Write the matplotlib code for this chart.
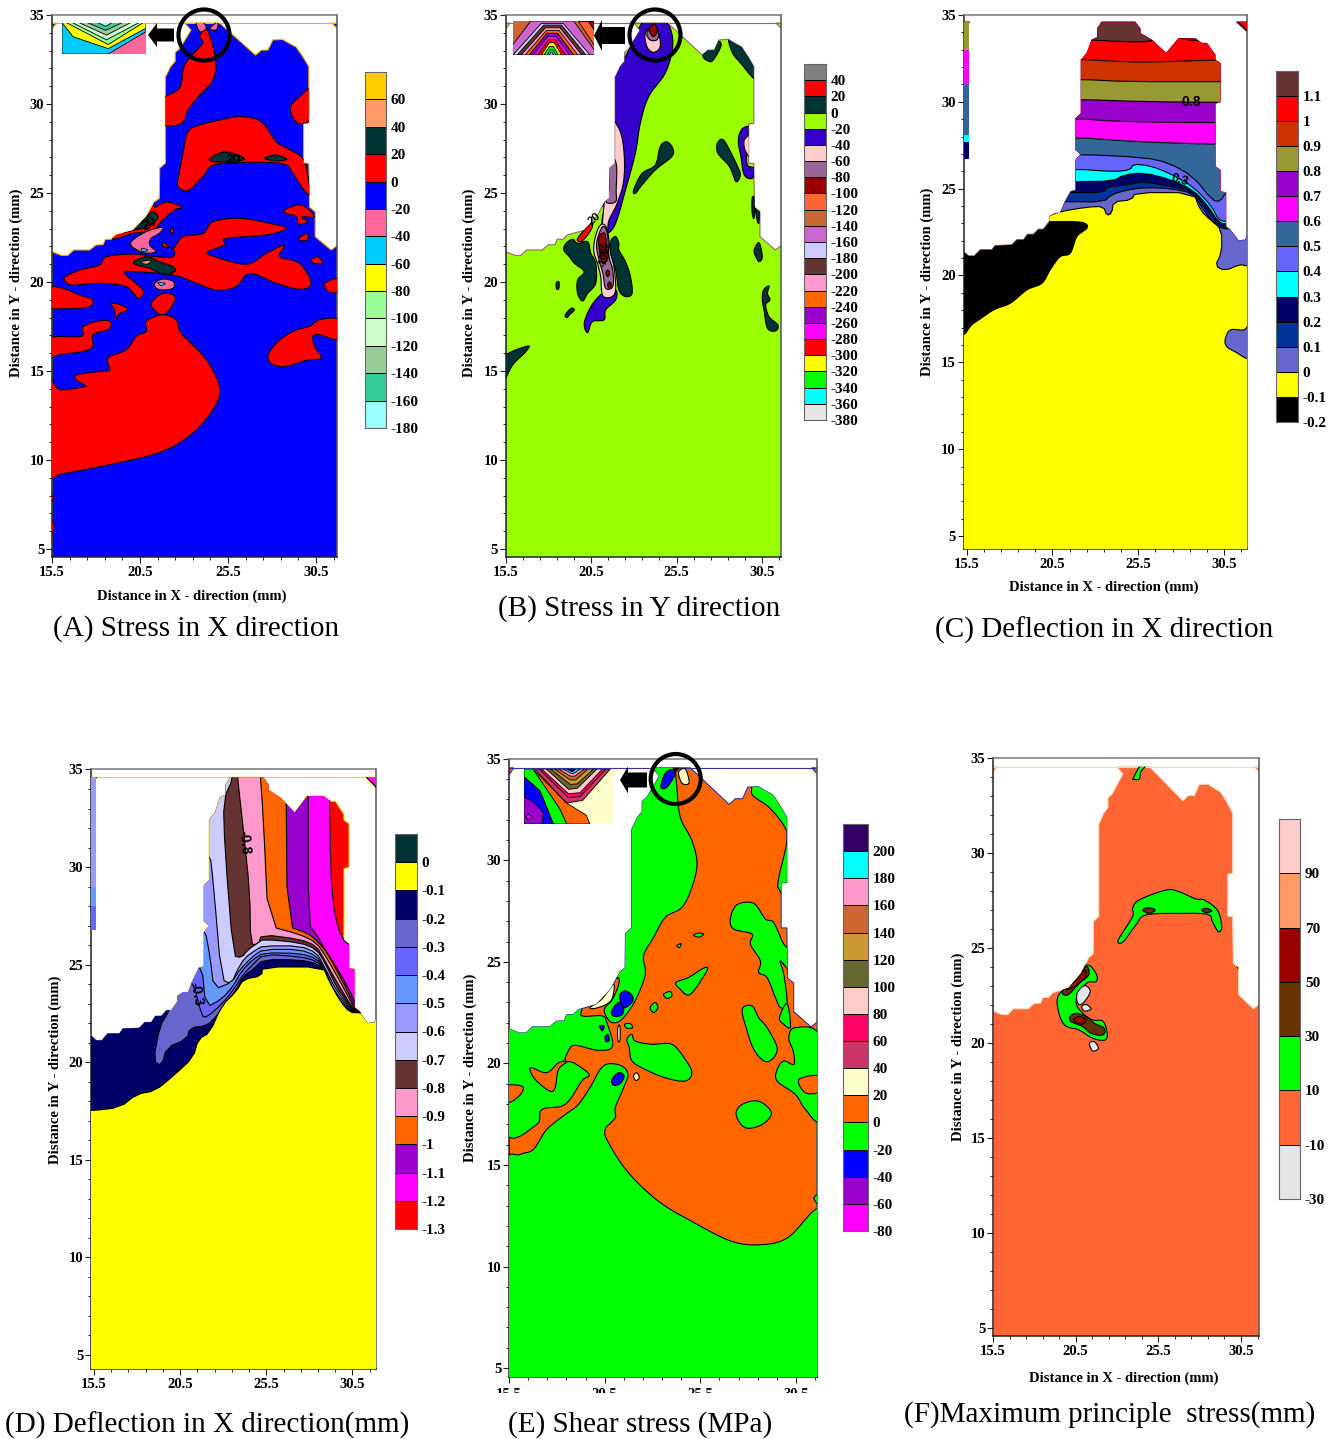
import numpy as np
import matplotlib
matplotlib.use("Agg")
import matplotlib.pyplot as plt
from matplotlib.path import Path
from matplotlib.patches import PathPatch, Circle, FancyArrow, Rectangle

plt.rcParams['font.family'] = ['Liberation Serif', 'DejaVu Serif']

W, H = 1341, 1439

# ------------- mold outlines (mm)
MOLD_1 = [(15.5,4.0),(15.5,21.7),(16.03,21.5),(16.4,21.5),(16.73,21.8),(17.64,21.8),(18.0,22.08),(18.4,22.1),
          (18.53,22.4),(18.87,22.4),(19.15,22.65),(20.1,22.9),(20.4,23.2),(20.86,23.67),(21.33,24.5),(21.6,24.7),
          (21.62,26.4),(21.94,26.67),(21.94,31.5),(22.24,32.1),(22.5,32.4),(22.5,32.9),(22.75,33.1),(23.4,34.15),
          (23.04,34.55),(25.03,34.55),(27.07,32.75),(27.4,33.03),(27.77,33.03),(28.05,33.6),(28.6,33.63),(29.0,33.4),
          (29.38,33.2),(29.76,32.66),(30.1,32.1),(30.1,28.9),(29.8,28.9),(29.8,26.67),(30.1,26.67),(30.14,24.2),
          (30.46,23.95),(30.46,22.55),(31.37,21.8),(31.75,22.08),(31.75,4.0)]
MOLD_2 = [(15.5,4.0),(15.5,21.37),(15.79,21.12),(16.11,21.12),(16.45,21.47),(17.12,21.47),(17.31,21.72),(18.26,21.76),
          (18.55,22.05),(18.93,22.05),(19.16,22.37),(19.5,22.37),(19.79,22.66),(20.07,22.66),(20.41,23.1),(20.41,23.39),
          (20.74,23.58),(21.02,23.58),(21.31,24.25),(21.63,24.83),(21.92,24.92),(21.92,26.65),(22.2,26.98),(21.92,27.23),
          (21.92,29.05),(22.22,29.34),(22.22,32.41),(22.55,32.79),(22.83,33.56),(23.16,33.71),(23.16,34.23),(23.4,34.6),
          (25.3,34.6),(25.6,34.2),(25.6,33.94),(26.26,33.56),(27.08,32.79),(27.79,33.64),(28.74,33.64),(29.12,33.37),
          (29.4,33.37),(29.88,32.7),(29.88,32.41),(30.17,32.22),(30.17,30.0),(29.88,29.91),(29.88,26.27),(30.17,26.07),
          (30.17,24.83),(30.49,24.77),(30.49,22.81),(30.74,22.62),(31.21,22.0),(31.6,22.04),(31.75,22.33),(31.75,4.0)]
CORNER_L1 = [(15.5,34.55),(15.75,34.55),(15.5,34.2)]
CORNER_R1 = [(31.4,34.55),(31.75,34.55),(31.75,34.2)]
CORNER_L2 = [(15.5,34.6),(15.85,34.6),(15.5,34.3)]
CORNER_R2 = [(31.1,34.6),(31.75,34.6),(31.75,34.0)]

# ------------- panel A regions (mm)
A_RED = [
    [(24.3,34.25),(24.8,32.5),(24.65,31.35),(23.9,30.5),(23.23,29.66),(22.85,28.9),(21.7,28.88),(21.7,30.2),(22.75,30.9),(23.04,32.2),(23.9,33.2),(24.08,33.5),(23.9,33.8)],
    [(22.66,25.73),(22.98,27.42),(23.23,28.45),(23.89,28.82),(25.03,29.1),(26.26,29.29),(27.4,29.0),(28.25,27.88),(28.9,27.5),(29.76,26.95),(30.05,25.92),(30.14,24.9),(29.67,25.36),(29.19,26.1),(28.44,26.67),(24.93,26.63),(24.08,25.92),(23.23,25.13),(22.66,25.36)],
    [(16.26,20.3),(17.07,20.67),(18.2,20.96),(18.59,21.42),(20.1,21.57),(21.43,21.42),(22.38,21.42),(22.38,21.89),(21.8,21.98),(21.9,22.21),(22.38,21.89),(22.94,22.55),(24.08,22.73),(24.65,23.39),(26.16,23.58),(27.87,23.3),(28.81,23.01),(27.68,22.64),(25.4,22.45),(25.31,22.08),(24.36,21.7),(24.65,21.46),(26.54,20.99),(27.68,21.61),(28.72,22.08),(28.44,21.42),(29.57,21.05),(30.23,19.93),(29.57,19.59),(28.25,19.93),(26.73,20.48),(25.97,19.74),(24.84,19.55),(23.7,19.93),(22.38,20.39),(20.1,20.58),(19.63,20.48),(20.67,19.55),(20.39,19.08),(19.72,19.74),(18.2,19.93),(16.69,19.83),(16.26,20.02)],
    [(15.4,19.65),(16.1,19.65),(17.07,19.27),(17.8,19.0),(17.6,18.6),(16.3,18.5),(15.4,18.6)],
    [(18.87,18.8),(19.45,18.7),(19.82,18.43),(19.35,18.24),(19.15,17.96),(19.06,18.43)],
    [(21.14,18.8),(21.8,19.36),(22.5,19.17),(22.18,18.43),(21.75,18.15),(21.43,18.33)],
    [(31.0,19.93),(31.85,20.2),(31.85,19.46),(31.2,19.46)],
    [(30.23,21.24),(30.6,21.42),(30.9,21.05),(30.4,21.05)],
    [(29.5,22.45),(30.04,22.73),(30.0,22.36),(29.67,22.32)],
    [(28.72,24.05),(29.67,24.33),(30.42,23.67),(29.67,23.67),(30.05,23.39),(29.5,23.26),(29.4,23.67),(28.8,23.86)],
    [(21.33,24.2),(22.0,24.5),(22.9,24.2),(22.47,24.05),(21.8,23.5),(21.24,22.9),(20.1,22.73),(18.97,22.4),(19.15,22.9),(20.1,23.1),(20.86,23.9),(21.33,24.7)],
    [(22.2,22.92),(22.4,23.0),(22.35,22.7)],
    [(29.04,29.76),(29.57,30.41),(30.3,30.88),(30.3,29.29),(29.48,28.91)],
    [(15.3,14.33),(15.94,13.95),(17.26,14.1),(17.4,14.18),(16.88,14.51),(16.92,14.79),(18.2,14.98),(18.78,15.08),(18.68,15.73),(19.72,16.2),(20.29,16.95),(20.86,17.23),(20.86,17.79),(21.75,18.16),(22.56,17.88),(22.84,17.13),(24.27,15.64),(25.03,14.04),(24.65,12.83),(23.51,11.52),(22.0,10.58),(20.1,10.02),(16.12,9.23),(15.3,9.27)],
    [(15.3,16.85),(17.17,16.95),(17.26,17.51),(18.4,17.85),(18.87,17.7),(18.68,17.32),(17.83,17.04),(17.83,16.39),(17.26,16.1),(15.94,15.92),(15.3,15.79)],
    [(27.77,15.82),(28.25,16.57),(29.19,17.23),(30.14,17.51),(30.71,17.88),(31.85,17.88),(31.85,16.76),(30.71,17.04),(30.33,16.95),(30.42,16.39),(30.8,15.73),(29.95,15.6),(28.81,15.26),(28.06,15.36)],
    [(15.4,8.0),(15.62,7.9),(15.4,7.6)],
    [(15.4,6.5),(15.62,6.3),(15.4,5.5)],
]
A_DARK = [
    [(24.5,26.95),(25.4,27.32),(26.45,26.9),(25.4,26.76),(24.65,26.76)],
    [(27.58,26.95),(28.25,27.13),(28.85,26.9),(28.25,26.8)],
    [(19.53,22.77),(20.1,23.0),(20.86,23.67),(21.24,23.95),(21.52,23.58),(20.86,23.1),(20.1,22.9)],
    [(20.16,21.14),(20.86,21.42),(21.6,21.14),(22.38,20.86),(22.47,20.58),(21.8,20.45),(21.05,20.77),(20.3,20.96)],
]
A_PINK = [
    [(19.95,22.17),(20.86,22.83),(21.8,23.07),(21.6,22.73),(21.14,22.45),(21.05,22.08),(21.4,21.7),(20.67,21.65)],
    [(21.33,19.93),(21.8,20.17),(22.4,20.02),(22.38,19.65),(21.8,19.55),(21.43,19.65)],
    [(23.7,34.6),(24.08,34.6),(24.27,34.25),(23.9,34.06)],
    [(24.46,34.25),(24.93,34.6),(24.84,34.16)],
]
A_CYAN = [
    [(20.57,21.9),(20.95,21.8),(20.7,21.7)],
    [(21.52,19.96),(21.94,19.93),(21.71,19.8)],
]
A_ORANGE = [[(20.57,21.14),(21.14,21.2),(20.86,21.0)]]

# ------------- panel B regions (mm)
B_PURPLE = [
    [(22.74,33.03),(23.33,34.25),(23.71,34.6),(24.88,34.6),(25.27,33.97),(25.3,33.03),(24.88,31.72),(23.91,30.41),(23.42,28.91),(23.13,27.23),(22.55,25.17),(21.97,23.3),(21.48,22.73),(21.19,22.92),(21.19,23.67),(21.38,24.23),(21.0,25.0),(21.5,31.16),(22.16,32.0)],
    [(20.12,17.68),(20.51,18.61),(21.19,19.36),(21.97,19.55),(21.97,18.99),(21.38,18.43),(21.29,17.87),(20.6,17.77),(20.32,17.15)],
    [(29.19,27.98),(29.44,28.63),(30.02,28.73),(29.77,28.35),(29.69,26.67),(30.12,26.39),(30.02,25.82),(29.54,26.01),(29.34,27.04)],
]
B_LIGHT = [
    [(21.5,29.06),(22.16,28.63),(22.45,27.42),(22.45,25.73),(22.06,24.42),(21.58,23.48),(21.48,22.92),(21.19,22.92),(21.3,24.42),(21.5,25.36)],
    [(20.7,22.17),(20.9,22.92),(21.19,23.26),(21.48,22.92),(21.67,21.61),(21.87,20.86),(21.97,19.55),(21.67,19.14),(21.19,19.27),(21.09,20.3),(20.9,21.05),(20.7,21.61)],
    [(29.54,27.98),(29.9,28.16),(29.9,27.04),(29.58,27.42)],
    [(23.71,33.97),(24.1,34.34),(24.49,33.97),(24.59,33.22),(24.2,32.9),(23.81,33.22)],
]
B_MAUVE = [
    [(21.5,27.32),(22.0,26.67),(22.0,25.17),(21.97,24.51),(21.4,24.51),(21.6,25.36)],
    [(20.85,22.17),(21.19,23.1),(21.48,22.73),(21.58,21.42),(21.8,20.67),(21.8,19.75),(21.38,19.65),(21.22,20.49),(20.99,21.24)],
    [(23.81,33.97),(24.2,34.5),(24.49,33.97),(24.39,33.6),(24.0,33.6)],
]
B_MAROON = [
    [(21.0,22.55),(21.33,22.73),(21.43,21.98),(21.52,21.33),(21.19,21.05),(21.0,21.89)],
    [(21.5,20.67),(21.62,20.5),(21.5,20.3),(21.4,20.5)],
    [(21.6,20.0),(21.72,19.85),(21.6,19.65),(21.5,19.85)],
    [(23.95,34.16),(24.2,34.5),(24.43,34.16),(24.2,33.78)],
]
B_DARK = [
    [(18.92,21.8),(19.05,22.17),(19.44,22.4),(19.73,22.17),(20.32,22.27),(20.51,21.61),(20.8,21.05),(20.8,19.93),(20.32,19.36),(20.02,18.93),(19.73,19.36),(19.73,20.11),(20.12,20.58),(19.54,21.05),(19.25,21.42)],
    [(21.67,22.27),(21.97,22.55),(22.16,22.17),(22.16,21.8),(22.55,21.14),(22.84,20.3),(22.94,19.36),(22.55,19.18),(22.16,19.55),(21.97,20.67),(21.67,21.42)],
    [(23.03,25.17),(23.52,26.1),(24.3,26.57),(24.59,27.6),(24.98,27.88),(25.33,27.51),(25.27,27.04),(24.3,26.29),(23.52,25.45),(23.13,24.98)],
    [(27.95,27.79),(28.28,28.01),(28.67,27.42),(29.15,26.48),(29.31,26.01),(29.05,25.64),(28.67,26.48),(27.99,27.23)],
    [(27.11,32.75),(27.89,33.5),(28.18,33.31),(27.79,32.57),(27.5,32.38)],
    [(28.61,33.6),(28.96,33.5),(30.2,32.47),(30.2,31.39),(29.34,32.28),(28.86,32.85)],
    [(30.0,24.7),(30.12,24.7),(30.12,23.6),(30.0,23.9)],
    [(30.2,25.1),(30.4,25.0),(30.4,23.3),(30.2,24.0)],
    [(30.12,21.8),(30.41,22.21),(30.6,21.42),(30.41,21.14),(30.22,21.42)],
    [(30.67,19.55),(31.0,19.78),(30.9,19.36),(31.05,18.99),(30.8,18.71),(31.0,18.05),(31.52,17.58),(31.38,17.25),(30.9,17.4),(30.7,18.43),(30.6,18.99)],
    [(18.47,19.93),(18.63,20.02),(18.63,19.65),(18.5,19.6)],
    [(19.0,18.15),(19.35,18.52),(19.54,18.43),(19.25,18.15),(19.1,18.0)],
    [(15.3,15.73),(16.79,16.4),(16.67,16.07),(15.91,15.34),(15.3,14.33)],
]
B_RED = [[(19.73,22.45),(20.51,23.3),(20.6,23.1),(20.32,22.64),(19.93,22.27)]]

# ------------- panel C layers (upper edge of each band, mm)
C_BANDS = [
    [(21.98,33.6),(24.64,33.46),(26.26,33.46),(27.5,33.94),(27.88,33.64),(28.74,33.52),(31.69,33.52)],
    [(22.17,32.45),(23.88,32.35),(25.79,32.27),(29.88,32.41)],
    [(22.17,31.3),(24.83,31.16),(30.17,31.16)],
    [(22.17,30.14),(25.79,30.01),(30.17,29.97)],
    [(21.92,29.05),(24.26,28.86),(29.88,28.8)],
    [(21.92,27.96),(25.17,27.71),(29.88,27.55)],
    [(22.17,26.98),(25.79,26.8),(27.21,26.5),(28.64,25.69),(29.7,24.35),(30.17,24.25),(30.51,24.83)],
    [(21.92,26.13),(24.07,25.98),(25.02,26.07),(25.2,26.42),(26.16,26.32),(27.3,25.88),(28.64,25.11),(29.7,23.96),(30.07,23.2),(30.49,23.1)],
    [(21.92,25.4),(24.07,25.44),(24.64,25.79),(25.79,25.92),(27.3,25.54),(28.64,24.92),(29.5,23.96),(30.07,23.06),(30.49,22.96)],
    [(21.6,24.77),(23.5,24.77),(23.69,25.11),(24.83,25.21),(25.79,25.4),(27.3,25.15),(28.64,24.83),(29.4,23.77),(30.07,22.91),(30.55,22.77)],
    [(21.31,24.25),(23.5,24.23),(23.98,24.67),(24.83,24.92),(25.79,25.06),(27.3,25.02),(28.64,24.73),(29.21,23.77),(29.98,22.81),(30.55,22.66)],
    [(20.3,23.4),(21.0,23.68),(22.58,23.94),(23.5,23.98),(23.69,23.44),(23.98,23.6),(24.07,24.25),(25.11,24.35),(25.3,24.77),(28.64,24.77),(29.02,23.77),(29.6,23.2),(30.25,22.66),(30.25,21.3),(29.87,20.55),(30.44,20.27),(31.3,20.64),(31.69,20.55)],
]
C_BLACK = [(15.3,16.96),(16.07,17.25),(17.21,18.01),(18.17,18.4),(19.12,19.17),(19.98,19.55),(20.45,20.32),(21.02,21.08),(21.6,21.28),(21.98,22.24),(22.55,22.72),(22.45,23.0),(21.79,23.1),(20.45,23.1),(15.3,23.1)]
C_SLATE = [(30.45,16.29),(30.74,16.86),(31.5,16.86),(31.85,17.05),(31.85,15.29),(31.02,15.61),(30.55,15.9)]
C_STRIP_BOT = [33.0,31.0,28.1,27.7,26.7]
C_STRIP_H = [1.6,2.0,2.9,0.4,1.0]

# ------------- panel D layers (boundary of each band, mm)
D_BANDS = [
    [(29.04,35),(29.12,29.54),(29.36,27.49),(29.74,26.38),(30.22,25.96),(31.9,25.96)],
    [(27.85,35),(27.85,27.06),(28.32,26.55),(28.8,25.78),(29.65,24.59),(30.41,23.31),(30.69,22.54),(31.9,22.54)],
    [(26.58,35),(26.66,26.98),(27.85,26.6),(28.42,26.16),(28.98,25.53),(29.74,24.25),(30.31,23.23),(30.59,22.54),(31.9,22.54)],
    [(25.1,35),(25.29,32.61),(25.58,26.98),(27.38,26.55),(28.32,26.13),(28.89,25.36),(29.65,24.16),(30.22,23.19),(30.59,22.54),(31.9,22.54)],
    [(23.78,35),(24.16,31.93),(24.53,28.69),(24.57,26.04),(25.01,26.04),(25.2,26.55),(27.38,26.3),(28.32,25.96),(28.8,25.19),(29.55,23.99),(30.12,23.14),(30.56,22.54),(31.9,22.54)],
    [(23.59,34.57),(23.02,33.46),(23.11,30.9),(23.59,25.44),(24.06,25.36),(24.44,25.78),(25.01,26.13),(25.29,26.3),(27.38,26.13),(28.32,25.78),(28.8,25.1),(29.46,23.82),(30.12,23.05),(30.56,22.54),(31.9,22.54)],
    [(21.5,30.73),(22.26,30.73),(22.45,29.2),(22.92,24.25),(23.49,23.99),(23.78,24.68),(24.25,25.36),(24.91,25.78),(25.29,25.96),(27.38,25.96),(28.32,25.61),(28.7,25.02),(29.46,23.65),(30.12,22.97),(30.56,22.54),(31.9,22.54)],
    [(21.5,26.81),(21.98,26.81),(22.26,25.44),(22.49,23.74),(23.49,24.08),(23.97,24.76),(24.72,25.44),(25.29,25.78),(27.38,25.78),(28.32,25.44),(28.7,24.93),(29.36,23.57),(30.12,22.88),(30.56,22.54),(31.9,22.54)],
    [(21.0,25.02),(21.79,25.02),(22.03,22.8),(22.92,23.23),(23.59,23.91),(24.06,24.68),(24.72,25.27),(25.29,25.61),(27.38,25.58),(28.32,25.31),(28.7,24.85),(29.27,23.48),(30.12,22.8),(30.56,22.54),(31.9,22.54)],
    [(20.5,24.25),(21.28,24.25),(21.79,22.37),(22.07,22.29),(23.02,23.05),(23.68,23.82),(24.16,24.51),(24.72,25.02),(25.29,25.53),(27.38,25.41),(28.32,25.19),(28.7,24.76),(29.17,23.4),(30.03,22.75),(30.56,22.54),(31.9,22.54)],
    [(20.65,24.08),(19.89,22.54),(19.42,21.86),(19.04,20.07),(19.51,19.81),(19.8,20.75),(20.94,21.18),(21.13,21.77),(22.07,21.86),(22.64,22.37),(23.21,23.05),(23.78,23.74),(24.16,24.42),(24.72,24.76),(25.29,25.27),(27.38,25.24),(28.32,25.07),(28.7,24.68),(29.08,23.31),(29.93,22.71),(30.56,22.54),(31.9,22.54)],
]
D_YELLOW = [(15.5,17.51),(17.15,17.68),(18.09,18.36),(19.14,18.53),(20.18,19.3),(21.31,20.24),(21.6,21.18),(22.26,21.52),(22.92,22.88),(23.78,23.65),(24.16,24.25),(25.2,24.42),(25.25,24.88),(28.7,24.88),(28.98,24.25),(29.65,23.14),(30.22,22.54),(30.78,22.54),(31.73,22.37)]
D_STRIP_BOT = [29.0,28.0,26.8]
D_STRIP_H = [5.6,1.0,1.2]

# ------------- panel E regions (mm)
E_GREEN = [
    [(24.24,34.59),(24.32,33.6),(24.5,32.12),(25.11,30.97),(25.38,29.82),(25.11,28.67),(24.59,27.68),(23.71,27.19),(23.1,26.2),(22.57,25.3),(22.66,24.39),(22.13,23.08),(21.43,22.17),(20.9,22.01),(20.55,22.42),(20.55,22.75),(20.99,23.24),(21.25,24.23),(20.0,24.23),(20.0,35.5),(24.24,35.5)],
    [(15.3,22.0),(19.0,22.8),(19.32,22.34),(20.38,22.34),(20.64,22.01),(20.94,20.85),(20.2,20.64),(18.97,20.89),(18.62,20.61),(18.45,20.12),(18.89,20.03),(19.71,19.46),(19.32,19.13),(18.45,17.98),(17.22,17.73),(16.96,16.99),(15.3,16.63)],
    [(15.3,14.98),(16.08,15.51),(16.78,15.76),(17.48,16.74),(18.45,17.48),(19.15,17.98),(19.85,18.96),(20.29,19.7),(20.73,19.98),(21.43,19.87),(21.75,19.46),(21.52,18.8),(21.08,17.81),(21.08,17.32),(20.55,16.74),(20.73,16.09),(21.78,14.61),(23.36,13.21),(25.11,12.22),(27.22,11.23),(28.87,11.08),(30.2,11.45),(31.85,12.85),(31.95,10.0),(31.95,3.0),(15.2,3.0),(15.2,10.0)],
    [(21.69,21.18),(21.96,21.43),(22.13,21.1),(23.01,20.94),(24.06,20.94),(24.76,20.2),(25.11,19.54),(24.76,19.13),(23.71,19.29),(22.66,19.7),(21.96,20.12),(21.82,20.77)],
    [(27.13,27.11),(27.48,27.81),(28.36,27.88),(28.97,27.11),(29.41,26.94),(29.94,25.87),(30.43,25.46),(30.43,24.39),(29.76,25.05),(29.94,24.39),(30.11,22.91),(29.76,22.75),(29.5,23.24),(29.06,24.23),(28.62,24.47),(28.71,25.05),(28.18,25.87),(28.27,26.37),(27.31,26.61)],
    [(27.75,22.66),(28.27,22.83),(28.62,22.25),(29.06,21.76),(29.59,20.77),(29.32,20.2),(28.89,20.12),(28.36,20.69),(28.01,21.6)],
    [(29.71,22.25),(30.11,22.95),(30.29,21.79),(29.94,21.92)],
    [(30.2,21.27),(30.55,21.76),(31.85,21.27),(31.85,17.32),(31.08,17.73),(30.55,18.47),(29.59,19.13),(29.59,19.7),(29.94,20.12),(30.47,19.95),(30.43,20.61)],
    [(27.43,17.48),(27.75,17.98),(28.62,18.14),(29.29,17.57),(28.8,16.99),(27.92,16.83)],
    [(24.27,23.98),(24.94,24.23),(25.73,24.69),(25.9,24.56),(25.03,23.4),(24.5,23.65)],
    [(28.27,33.68),(28.31,33.19),(29.15,32.62),(29.94,31.71),(30.11,30.97),(29.68,29.16),(29.68,28.59),(30.2,28.59),(30.38,34.1),(28.27,34.1)],
    [(25.2,26.3),(25.4,26.41),(25.73,26.37),(25.5,26.22)],
    [(24.32,25.8),(24.55,25.9),(24.45,25.7)],
    [(23.62,23.4),(23.97,23.54),(24.06,23.32),(23.8,23.2)],
    [(22.92,22.75),(23.18,23.0),(23.32,22.75),(23.1,22.5)],
    [(21.57,21.92),(21.87,21.96),(21.99,21.76),(21.69,21.73)],
    [(31.52,13.37),(31.85,13.54),(31.85,12.96)],
]
E_ORANGE = [
    [(16.66,19.79),(17.48,19.54),(18.1,20.03),(18.54,20.08),(18.1,19.7),(17.92,18.8),(17.66,18.63),(17.04,19.05),(16.69,19.46)],
    [(15.3,18.88),(16.17,18.88),(16.17,18.55),(15.73,18.17),(15.3,18.11)],
    [(30.73,19.21),(31.85,19.38),(31.85,18.63),(31.08,18.55)],
]
E_BLUE = [
    [(20.9,22.58),(21.25,23.0),(21.52,22.75),(21.43,22.38),(20.99,22.33)],
    [(21.31,23.32),(21.61,23.57),(21.99,23.32),(21.96,23.0),(21.52,22.75)],
    [(20.9,19.21),(21.25,19.54),(21.55,19.38),(21.34,19.0),(20.99,18.93)],
    [(20.26,21.84),(20.5,21.84),(20.4,21.6)],
    [(20.55,21.3),(20.7,21.43),(20.76,21.13),(20.6,21.07)],
    [(23.48,33.6),(23.7,34.26),(24.06,34.46),(24.24,34.26),(23.8,33.6)],
]
E_CREAM = [
    [(24.41,34.34),(24.76,34.5),(24.97,33.85),(24.76,33.73),(24.55,33.85)],
    [(19.76,22.75),(20.38,23.16),(20.99,23.9),(20.94,23.24),(20.64,22.92),(20.03,22.71)],
    [(21.22,21.76),(21.33,21.84),(21.33,21.14),(21.22,21.14)],
    [(22.04,19.38),(22.22,19.54),(22.34,19.29),(22.17,19.16)],
]
E_BLACK = [[(24.06,34.65),(24.55,34.65),(24.24,34.34)]]

# ------------- panel F regions (mm)
F_GREEN = [
    [(23.13,25.42),(24.0,26.65),(24.0,27.09),(24.41,27.53),(26.03,28.05),(26.84,27.96),(27.85,27.58),(28.35,27.53),(29.16,27.0),(29.43,26.12),(29.22,25.86),(28.86,26.39),(28.56,26.77),(26.84,26.82),(24.81,26.74),(24.2,26.21),(23.43,25.33)],
    [(21.17,24.1),(21.47,24.02),(21.82,23.58),(21.78,23.23),(21.27,23.19),(20.76,22.7),(20.56,22.09),(20.97,21.56),(21.57,21.21),(22.18,21.16),(22.44,20.6),(22.34,20.16),(21.57,20.25),(20.76,20.68),(19.85,20.95),(19.45,21.82),(19.51,22.53),(20.36,23.23),(20.97,23.93)],
    [(24.04,33.93),(24.51,34.65),(24.85,34.65),(24.51,34.28),(24.41,33.89),(24.1,33.88)],
    [(30.48,25.07),(30.24,24.63),(30.44,23.93),(30.8,24.5)],
]
F_BROWN = [
    [(24.61,27.0),(24.98,27.12),(25.38,27.0),(25.01,26.82)],
    [(28.21,27.0),(28.5,27.09),(28.82,26.96),(28.5,26.86)],
    [(19.71,22.7),(20.36,23.23),(21.17,24.02),(21.33,23.58),(20.76,23.14),(20.05,22.53)],
    [(20.2,21.39),(20.56,21.56),(21.17,21.39),(21.67,21.04),(22.28,20.77),(22.18,20.42),(21.47,20.51),(20.97,20.86),(20.26,21.12)],
]
F_MAROON = [
    [(19.95,22.82),(20.56,23.32),(21.06,23.84),(21.12,23.49),(20.46,22.97)],
    [(20.42,21.21),(20.76,21.39),(21.17,21.21),(20.86,20.98)],
]
F_GREY = [
    [(20.62,22.61),(21.07,23.02),(21.43,22.7),(20.97,22.09),(20.66,22.09)],
    [(20.9,21.91),(21.17,22.03),(21.47,21.79),(21.07,21.68)],
    [(21.37,19.98),(21.67,20.07),(21.92,19.72),(21.57,19.58)],
]

# ------------- colour scales, top to bottom
A_SCALE = [60,40,20,0,-20,-40,-60,-80,-100,-120,-140,-160,-180]
A_COLORS = ['#ffcc00','#ff9966','#003333','#ff0000','#0000ff','#ff6699','#00ccff','#ffff00','#99ff99','#ccffcc','#99cc99','#33cc99','#99ffff']
B_SCALE = [40,20,0,-20,-40,-60,-80,-100,-120,-140,-160,-180,-200,-220,-240,-260,-280,-300,-320,-340,-360,-380]
B_COLORS = ['#808080','#ff0000','#003333','#99ff00','#3300cc','#ffcccc','#996699','#990000','#ff6633','#cc6633','#cc66cc','#ccccff','#663333','#ff99cc','#ff6600','#9900cc','#ff00ff','#ff0000','#ffff00','#00ff00','#00ffff','#e6e6e6']
C_SCALE = [1.1,1,0.9,0.8,0.7,0.6,0.5,0.4,0.3,0.2,0.1,0,-0.1,-0.2]
C_COLORS = ['#663333','#ff0000','#cc3300','#999933','#9900cc','#ff00ff','#336699','#6666ff','#00ffff','#000066','#003399','#6666cc','#ffff00','#000000']
D_SCALE = [0,-0.1,-0.2,-0.3,-0.4,-0.5,-0.6,-0.7,-0.8,-0.9,-1,-1.1,-1.2,-1.3]
D_COLORS = ['#003333','#ffff00','#000066','#6666cc','#6666ff','#6699ff','#9999ff','#ccccff','#663333','#ff99cc','#ff6600','#9900cc','#ff00ff','#ff0000']
E_SCALE = [200,180,160,140,120,100,80,60,40,20,0,-20,-40,-60,-80]
E_COLORS = ['#330066','#00ffff','#ff99cc','#cc6633','#cc9933','#666633','#ffcccc','#ff0066','#cc3366','#ffffcc','#ff6600','#00ff00','#0000ff','#9900cc','#ff00ff']
F_SCALE = [90,70,50,30,10,-10,-30]
F_COLORS = ['#ffcccc','#ff9966','#990000','#663300','#00ff00','#ff6633','#e6e6e6']

# ------------- inset close-ups (fractions of the inset)
A_INSET_COLORS = ['#00ccff','#ffff00','#99ff99','#ccffcc','#99cc99','#33cc99','#99ffff']
A_INSET = [
    [(0,1),(0,0),(.55,0),(1,.71),(1,1)],
    [(0,1),(.13,.55),(.55,.17),(1,.82),(1,1)],
    [(.05,1),(.55,.3),(.97,1)],
    [(.12,1),(.53,.45),(.92,1)],
    [(.2,1),(.53,.6),(.82,1)],
    [(.3,1),(.52,.75),(.72,1)],
    [(.42,1),(.52,.88),(.6,1)],
]
B_INSET_COLORS = ['#ff6633','#990000','#cc66cc','#ccccff','#663333','#ff99cc','#ff6600','#9900cc','#ff00ff','#ff0000','#ffff00','#00ff00','#00ffff','#e6e6e6']
B_INSET = [
    [(.8,1),(1,1),(1,.3)],
    [(.93,1),(1,1),(1,.75)],
    [(-.1,0),(.22,1),(.75,1),(1.05,0)],
    [(0,0),(.35,.93),(.62,.93),(.95,0)],
    [(.05,0),(.38,.88),(.6,.88),(.9,0)],
    [(.1,0),(.4,.8),(.58,.8),(.85,0)],
    [(.15,0),(.41,.72),(.57,.72),(.8,0)],
    [(.2,0),(.42,.64),(.55,.64),(.75,0)],
    [(.25,0),(.43,.55),(.53,.55),(.7,0)],
    [(.3,0),(.44,.46),(.52,.46),(.65,0)],
    [(.35,0),(.45,.36),(.51,.36),(.6,0)],
    [(.38,0),(.45,.25),(.5,.25),(.56,0)],
    [(.42,0),(.46,.15),(.49,.15),(.53,0)],
    [(.44,0),(.47,.08),(.48,.08),(.5,0)],
]
E_INSET_COLORS = ['#ff6600','#00ff00','#0000ff','#9900cc','#ff00ff','#cc3366','#ff0066','#ffcccc','#666633','#cc9933','#cc6633','#ff99cc','#00ffff','#330066']
E_INSET = [
    [(.1,1),(.48,.38),(.7,.16),(.74,0),(.48,0),(.4,.28)],
    [(0,1),(.1,1),(.4,.28),(.48,0),(.33,0),(.18,.6),(0,.86)],
    [(0,.86),(.18,.6),(.33,0),(0,0)],
    [(0,.5),(.12,.38),(.22,.2),(.2,0),(0,0)],
    [(.02,.13),(.05,.18),(.09,.13),(.05,.07)],
    [(.12,1),(.48,.38),(.66,.43),(.97,1)],
    [(.17,1),(.5,.48),(.63,.5),(.92,1)],
    [(.2,1),(.5,.55),(.63,.57),(.88,1)],
    [(.25,1),(.5,.63),(.6,.65),(.82,1)],
    [(.3,1),(.52,.72),(.6,.73),(.78,1)],
    [(.34,1),(.52,.8),(.58,.8),(.72,1)],
    [(.39,1),(.52,.87),(.57,.87),(.68,1)],
    [(.44,1),(.53,.92),(.56,.92),(.63,1)],
    [(.48,1),(.54,.95),(.55,.95),(.58,1)],
]

fig = plt.figure(figsize=(W/100, H/100), dpi=100, facecolor='white')


def px_axes(l, r, t, b):
    return fig.add_axes([l/W, 1-b/H, (r-l)/W, (b-t)/H])


def chaikin(pts, n=1):
    p = np.array(pts, dtype=float)
    for _ in range(n):
        q = np.roll(p, -1, axis=0)
        p = np.column_stack([0.75*p+0.25*q, 0.25*p+0.75*q]).reshape(-1, 2)
    return p


def spline(pts, n=6):
    # closed catmull-rom, goes through the read points
    p1 = np.array(pts, dtype=float)
    p0, p2, p3 = np.roll(p1, 1, axis=0), np.roll(p1, -1, axis=0), np.roll(p1, -2, axis=0)
    t = np.linspace(0, 1, n, endpoint=False)[:, None, None]
    c = 0.5*(2*p1 + (p2-p0)*t + (2*p0-5*p1+4*p2-p3)*t**2 + (3*p1-p0-3*p2+p3)*t**3)
    return c.transpose(1, 0, 2).reshape(-1, 2)


def shapes(ax, clip, regions, color, lw=0.8, mode='spline'):
    for pts in regions:
        if mode == 'spline':
            p = spline(pts)
        elif mode == 'cut':
            p = chaikin(pts)
        else:
            p = np.array(pts, dtype=float)
        poly = ax.fill(ax.fx(p[:, 0]), p[:, 1], facecolor=color, edgecolor='black', lw=lw, zorder=3)[0]
        poly.set_clip_path(clip)


def make_panel(pos, ymin, mold, corners, base, edge, top, t0, t3):
    l, r, t, b = pos
    ax = px_axes(*pos)
    s = (t3-t0)/15.0
    fit = (r-l)/16.2
    ax.fx = lambda x: 15.5 + (l + (np.asarray(x)-15.5)*fit - t0)/s
    ax.stretch = fit/s
    ax.set_xlim(15.5+(l-t0)/s, 15.5+(r-t0)/s)
    ax.set_ylim(ymin, 35)
    paths = []
    for m in [mold] + corners:
        a = np.array(m + [m[0]], dtype=float)
        a[:, 0] = ax.fx(a[:, 0])
        paths.append(Path(a, closed=True))
    patch = PathPatch(Path.make_compound_path(*paths), facecolor=base, edgecolor=edge, lw=0.8, zorder=1)
    ax.add_patch(patch)
    if top is not None:
        ax.plot(ax.get_xlim(), [top, top], color=edge, lw=0.8, zorder=2)
    ax.set_xticks([15.5, 20.5, 25.5, 30.5])
    ax.set_xticklabels(['15.5', '20.5', '25.5', '30.5'], fontweight='bold', fontsize=10.5)
    ax.set_xticks(np.arange(16.5, 31.6, 1), minor=True)
    ax.set_yticks([5, 10, 15, 20, 25, 30, 35])
    ax.set_yticklabels(['5', '10', '15', '20', '25', '30', '35'], fontweight='bold', fontsize=10.5)
    ax.set_yticks(np.arange(6, 35, 1), minor=True)
    ax.tick_params(which='major', length=4, width=0.8, pad=1.5, color='#222222')
    ax.tick_params(axis='x', which='major', pad=2.5)
    ax.tick_params(which='minor', length=2.5, width=0.7, color='#222222')
    for name, c in [('left', '#222222'), ('bottom', '#222222'), ('right', '#555555'), ('top', '#777777')]:
        ax.spines[name].set_color(c)
        ax.spines[name].set_linewidth(1.1)
    return ax, patch


def scale_bar(pos, scale, colors):
    ax = px_axes(*pos)
    step = abs(scale[0]-scale[1])
    low = np.array(scale, dtype=float)
    ax.bar(np.zeros(len(low)), np.full(len(low), step), bottom=low, width=1, color=colors,
           edgecolor='black', linewidth=0.7)
    ax.set_xlim(-0.5, 0.5)
    ax.set_ylim(low[-1], low[0]+step)
    ax.set_xticks([])
    ax.set_yticks(low)
    ax.set_yticklabels([str(v) for v in scale], fontweight='bold', fontsize=11)
    ax.yaxis.tick_right()
    ax.tick_params(length=0, pad=3.5)
    for s in ax.spines.values():
        s.set_color('#666666')


def below(bound):
    # band = everything under its upper edge
    return bound + [(33, bound[-1][1]), (33, -30), (14, -30), (14, bound[0][1])]


def left_of(bound):
    return bound + [(33, bound[-1][1]), (33, -30), (14, -30), (14, 36), (bound[0][0], 36)]


def inset(pos, base, regions, colors):
    ax = px_axes(*pos)
    ax.set_xlim(0, 1)
    ax.set_ylim(0, 1)
    ax.set_facecolor(base)
    ax.set_xticks([])
    ax.set_yticks([])
    for s in ax.spines.values():
        s.set_visible(False)
    for pts, c in zip(regions, colors):
        p = np.array(pts)
        ax.fill(p[:, 0], p[:, 1], facecolor=c, edgecolor='black', lw=0.6)


def label(ax, x, y, s, rot=0, size=9):
    ax.text(ax.fx(x), y, s, ha='center', va='center', rotation=rot, fontsize=size, fontweight='bold',
            family='Liberation Sans', color='black', zorder=6)


# Panel A
ax, clip = make_panel((52, 337, 15, 557), 4.55, MOLD_1, [CORNER_L1, CORNER_R1], '#0000ff', '#ffb000', 34.55, 52, 316)
shapes(ax, clip, A_RED, '#ff0000')
shapes(ax, clip, A_DARK, '#003333')
shapes(ax, clip, A_PINK, '#ff6699')
shapes(ax, clip, A_CYAN, '#00ccff', lw=0.5)
shapes(ax, clip, A_ORANGE, '#ff9966', lw=0.5)
label(ax, 25.8, 26.85, '20', size=10)
label(ax, 21.0, 23.3, '20', rot=30, size=10)
scale_bar((365, 386, 72, 428), A_SCALE, A_COLORS)
inset((62, 146, 22.5, 54), '#ff6699', A_INSET, A_INSET_COLORS)

# Panel B
ax, clip = make_panel((505.7, 781, 15, 557), 4.55, MOLD_1, [CORNER_L1, CORNER_R1], '#99ff00', '#996666', 34.55, 505.7, 762)
shapes(ax, clip, B_PURPLE, '#3300cc')
shapes(ax, clip, B_DARK, '#003333')
shapes(ax, clip, B_LIGHT, '#ffcccc')
shapes(ax, clip, B_MAUVE, '#996699')
shapes(ax, clip, B_MAROON, '#990000')
shapes(ax, clip, B_RED, '#ff0000')
label(ax, 20.7, 23.55, '20', rot=40, size=8)
label(ax, 21.33, 21.9, '-60', rot=80, size=7)
label(ax, 21.33, 21.4, '-100', rot=80, size=7)
scale_bar((804, 826, 64, 420), B_SCALE, B_COLORS)
inset((513, 594, 21, 55), '#cc6633', B_INSET, B_INSET_COLORS)

# Panel C
ax, clip = make_panel((963.5, 1247, 15, 549), 4.25, MOLD_2, [CORNER_L2, CORNER_R2], '#663333', '#990033', None, 966.7, 1224)
band_colors = C_COLORS[1:-1]
for bound, c in zip(C_BANDS, band_colors):
    shapes(ax, clip, [below(bound)], c, mode='cut')
shapes(ax, clip, [C_BLACK], '#000000')
shapes(ax, clip, [C_SLATE], '#6666cc')
shapes(ax, clip, [[(31.1,34.65),(31.85,34.65),(31.85,33.95)]], '#ff0000', mode='raw')
ax.bar(np.full(5, float(ax.fx(15.5))), C_STRIP_H, bottom=C_STRIP_BOT, width=0.33*ax.stretch, align='edge',
       color=['#999933', '#ff00ff', '#336699', '#00ffff', '#000066'], zorder=4)
label(ax, 28.5, 30.0, '0.8', size=10)
label(ax, 27.84, 25.5, '0.3', rot=-15, size=9)
scale_bar((1276, 1298, 70.7, 422), C_SCALE, C_COLORS)

# Panel D
ax, clip = make_panel((91, 376, 769.5, 1369), 4.28, MOLD_2, [CORNER_L2, CORNER_R2], '#ff0000', '#dddd00', 34.6, 94, 352.5)
band_colors = D_COLORS[:1:-1][1:]
for bound, c in zip(D_BANDS, band_colors):
    shapes(ax, clip, [left_of(bound)], c, mode='cut')
shapes(ax, clip, [below(D_YELLOW)], '#ffff00', mode='cut')
shapes(ax, clip, [[(31.07,34.65),(31.85,34.65),(31.85,33.95)]], '#ff00ff', mode='raw')
ax.bar(np.full(3, float(ax.fx(15.5))), D_STRIP_H, bottom=D_STRIP_BOT, width=0.3*ax.stretch, align='edge',
       color=['#9999ff', '#6699ff', '#6666ff'], zorder=4)
label(ax, 24.2, 31.25, '-0.8', rot=-85, size=10)
label(ax, 21.5, 23.5, '-0.3', rot=-80, size=10)
scale_bar((395, 417, 834, 1229), D_SCALE, D_COLORS)

# Panel E
ax, clip = make_panel((509, 817.3, 758.7, 1377), 4.56, MOLD_1, [CORNER_L1, CORNER_R1], '#ff6600', '#333399', 34.55, 509, 796)
ax.tick_params(axis='x', which='major', pad=4)
shapes(ax, clip, E_GREEN, '#00ff00')
shapes(ax, clip, E_ORANGE, '#ff6600')
shapes(ax, clip, E_BLUE, '#0000ff')
shapes(ax, clip, E_CREAM, '#ffffcc')
shapes(ax, clip, E_BLACK, '#000000', mode='raw')
scale_bar((843, 868, 824, 1231), E_SCALE, E_COLORS)
inset((524, 613, 769, 824), '#ffffcc', E_INSET, E_INSET_COLORS)

# Panel F
ax, clip = make_panel((993, 1259, 758, 1336), 4.58, MOLD_1, [CORNER_L1, CORNER_R1], '#ff6633', '#e8dcc0', 34.55, 993, 1241)
shapes(ax, clip, F_GREEN, '#00ff00')
shapes(ax, clip, F_BROWN, '#663300')
shapes(ax, clip, F_MAROON, '#990000')
shapes(ax, clip, F_GREY, '#e6e6e6')
scale_bar((1279, 1300, 819, 1199), F_SCALE, F_COLORS)

# overlay in image pixels: circles, arrows, captions, axis titles
ov = fig.add_axes([0, 0, 1, 1], zorder=20)
ov.set_xlim(0, W)
ov.set_ylim(H, 0)
ov.axis('off')

for cx, cy, r in [(204, 35, 25.5), (655, 35, 25.5), (675.7, 779, 25)]:
    ov.add_patch(Circle((cx, cy), r, fill=False, edgecolor='black', lw=3))
for x0, x1, y, w, hw, hl in [(174, 148, 35, 13, 24, 9), (625, 594, 35.5, 17, 31, 8), (647, 620, 780, 15, 27, 8)]:
    ov.add_patch(FancyArrow(x0, y, x1-x0, 0, width=w, head_width=hw, head_length=hl,
                            length_includes_head=True, color='black', lw=0))

# tick labels of panel E are cut off in the source image
ov.add_patch(Rectangle((480, 1393), 360, 13, facecolor='white', edgecolor='none', zorder=5))

for x, y, s in [(192, 596, 'Distance in X - direction (mm)'),
                (1104, 587, 'Distance in X - direction (mm)'),
                (1124, 1378, 'Distance in X - direction (mm)')]:
    ov.text(x, y, s, ha='center', va='center', fontsize=10.5, fontweight='bold')
for x, y in [(16, 283), (469, 283), (927, 282), (55, 1070), (470, 1068), (958, 1047)]:
    ov.text(x, y, 'Distance in Y - direction (mm)', ha='center', va='center', rotation=90,
            fontsize=10.5, fontweight='bold')
for x, y, s in [(196, 629, '(A) Stress in X direction'), (639, 609, '(B) Stress in Y direction'),
                (1104, 630, '(C) Deflection in X direction'), (207, 1425, '(D) Deflection in X direction(mm)'),
                (640, 1425, '(E) Shear stress (MPa)'), (1110, 1415, '(F)Maximum principle  stress(mm)')]:
    ov.text(x, y, s, ha='center', va='center', fontsize=21, zorder=6)

fig.savefig('out.png', dpi=100)
